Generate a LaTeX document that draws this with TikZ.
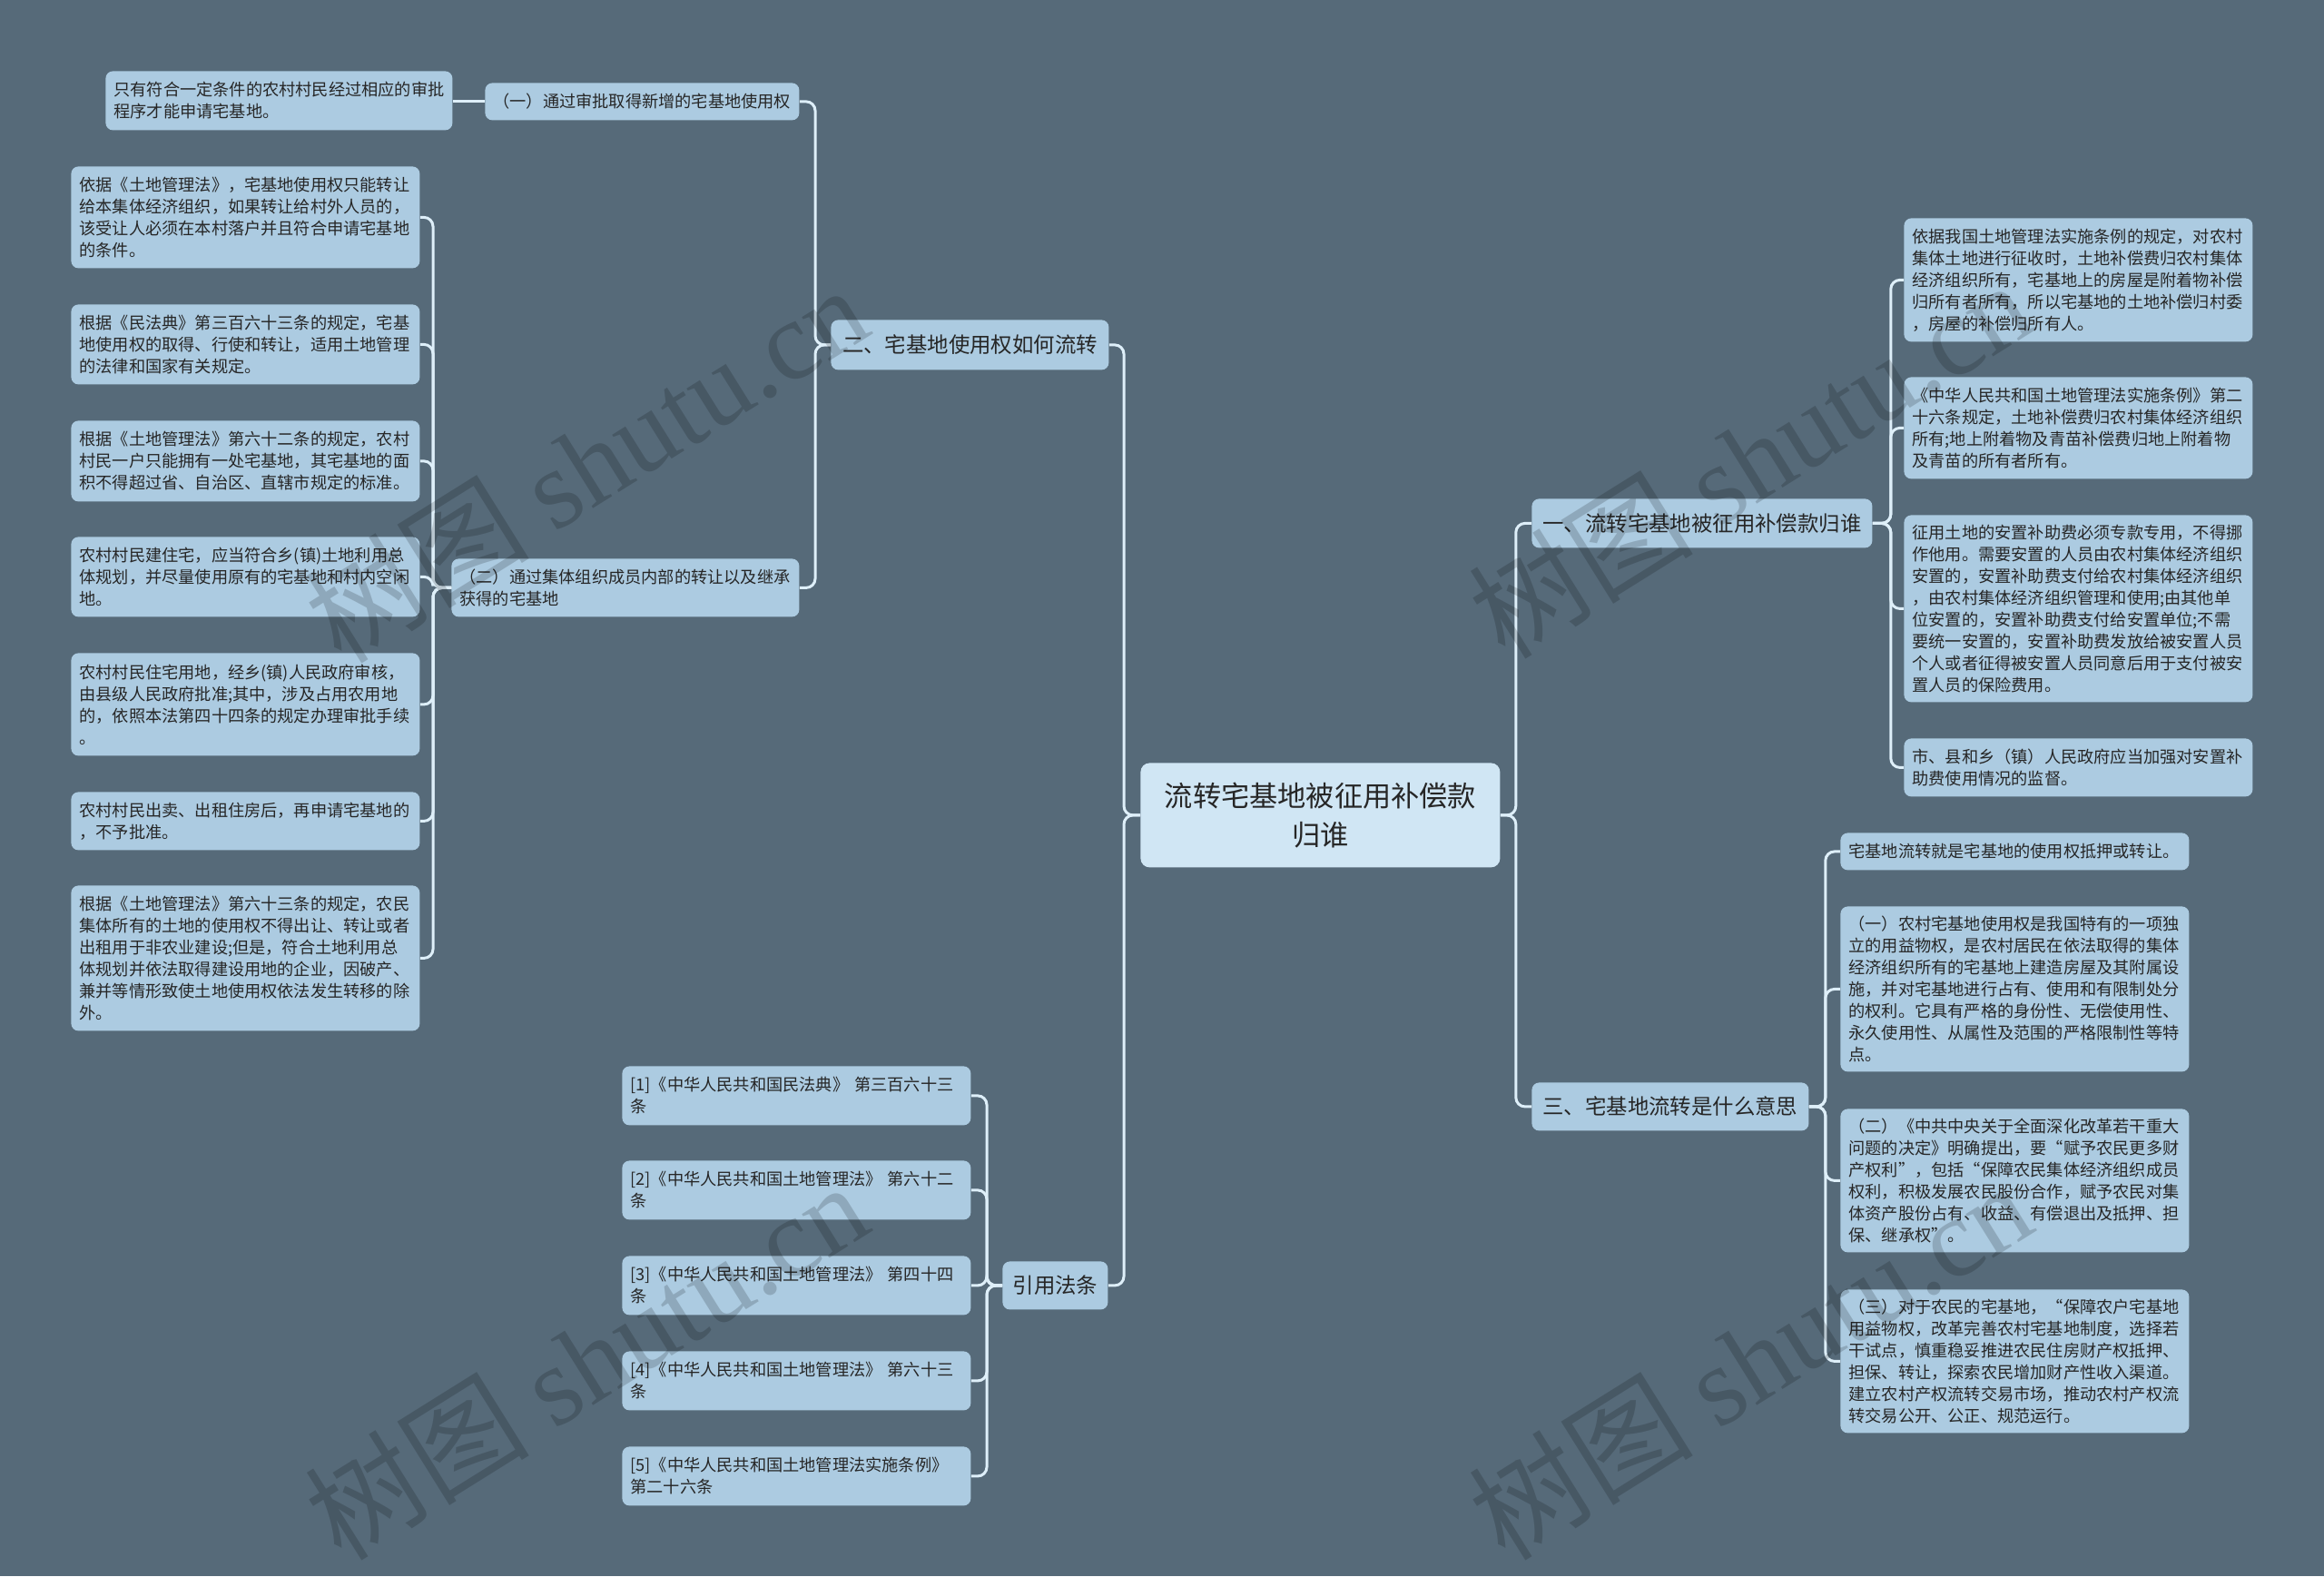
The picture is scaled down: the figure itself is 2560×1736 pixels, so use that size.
\documentclass[tikz,border=0pt]{standalone}
\usepackage{fontspec}
\setmainfont{Noto Sans CJK SC}
\newfontfamily\wmserif{Liberation Serif}
\usetikzlibrary{calc}
\definecolor{bgc}{RGB}{86,106,121}
\definecolor{boxc}{RGB}{172,203,225}
\definecolor{rootc}{RGB}{208,230,244}
\definecolor{linec}{RGB}{222,239,249}
\definecolor{txtc}{RGB}{38,38,38}
\begin{document}
\begin{tikzpicture}[x=0.5pt,y=-0.5pt,
  leaf/.style={fill=boxc, rounded corners=4pt, anchor=north west, inner xsep=4.5pt, inner ysep=0pt,
    text=txtc, align=left, text width=183pt, font=\fontsize{9.1pt}{12pt}\selectfont},
  mid/.style={fill=boxc, rounded corners=4pt, anchor=north west, inner sep=0pt,
    text=txtc, font=\fontsize{11.7pt}{14pt}\selectfont},
  rootbox/.style={fill=rootc, rounded corners=5pt, anchor=north west, inner sep=0pt,
    text=txtc, align=center, font=\fontsize{15.6pt}{21.7pt}\selectfont},
  conn/.style={draw=linec, line width=1.5pt, rounded corners=5pt},
  wm/.style={text=black, opacity=0.17, font=\fontsize{62pt}{62pt}\selectfont, inner sep=0pt}
]
\fill[bgc] (0,0) rectangle (2560,1736);
\useasboundingbox (0,0) rectangle (2560,1736);

% root
\node[rootbox, minimum width=198pt, minimum height=57.5pt] (root) at (1256,840) {流转宅基地被征用补偿款\\归谁};

% level 1
\node[mid, minimum width=153pt, minimum height=27.5pt] (n2) at (915,352) {二、宅基地使用权如何流转};
\node[mid, minimum width=58pt, minimum height=26.5pt] (ref) at (1104,1389) {引用法条};
\node[mid, minimum width=187.5pt, minimum height=27pt] (n1) at (1687,549) {一、流转宅基地被征用补偿款归谁};
\node[mid, minimum width=152.5pt, minimum height=26.5pt] (n3) at (1687,1192) {三、宅基地流转是什么意思};

% level 2 under n2
\node[leaf, text width=164pt, minimum height=20.5pt] (s1) at (534,91) {（一）通过审批取得新增的宅基地使用权};
\node[leaf, text width=182.5pt, minimum height=32pt] (s2) at (497,615) {（二）通过集体组织成员内部的转让以及继承\\获得的宅基地};

\node[leaf, text width=182pt, minimum height=32.5pt] (L0) at (116,78) {只有符合一定条件的农村村民经过相应的审批\\程序才能申请宅基地。};

\node[leaf, minimum height=56pt] (A) at (78,183) {依据《土地管理法》，宅基地使用权只能转让\\给本集体经济组织，如果转让给村外人员的，\\该受让人必须在本村落户并且符合申请宅基地\\的条件。};
\node[leaf, minimum height=44pt] (B) at (78,335) {根据《民法典》第三百六十三条的规定，宅基\\地使用权的取得、行使和转让，适用土地管理\\的法律和国家有关规定。};
\node[leaf, minimum height=44.5pt] (C) at (78,463) {根据《土地管理法》第六十二条的规定，农村\\村民一户只能拥有一处宅基地，其宅基地的面\\积不得超过省、自治区、直辖市规定的标准。};
\node[leaf, minimum height=44pt] (D) at (78,591) {农村村民建住宅，应当符合乡(镇)土地利用总\\体规划，并尽量使用原有的宅基地和村内空闲\\地。};
\node[leaf, minimum height=56.5pt] (E) at (78,719) {农村村民住宅用地，经乡(镇)人民政府审核，\\由县级人民政府批准;其中，涉及占用农用地\\的，依照本法第四十四条的规定办理审批手续\\。};
\node[leaf, minimum height=32pt] (F) at (78,872) {农村村民出卖、出租住房后，再申请宅基地的\\，不予批准。};
\node[leaf, minimum height=80pt] (G) at (78,975) {根据《土地管理法》第六十三条的规定，农民\\集体所有的土地的使用权不得出让、转让或者\\出租用于非农业建设;但是，符合土地利用总\\体规划并依法取得建设用地的企业，因破产、\\兼并等情形致使土地使用权依法发生转移的除\\外。};

% references
\node[leaf, minimum height=32.5pt] (F1) at (685,1174) {[1]《中华人民共和国民法典》 第三百六十三\\条};
\node[leaf, minimum height=32.5pt] (F2) at (685,1278) {[2]《中华人民共和国土地管理法》 第六十二\\条};
\node[leaf, minimum height=32.5pt] (F3) at (685,1383) {[3]《中华人民共和国土地管理法》 第四十四\\条};
\node[leaf, minimum height=32.5pt] (F4) at (685,1488) {[4]《中华人民共和国土地管理法》 第六十三\\条};
\node[leaf, minimum height=32.5pt] (F5) at (685,1593) {[5]《中华人民共和国土地管理法实施条例》\\第二十六条};

% right, under n1
\node[leaf, minimum height=68pt] (R1) at (2097,240) {依据我国土地管理法实施条例的规定，对农村\\集体土地进行征收时，土地补偿费归农村集体\\经济组织所有，宅基地上的房屋是附着物补偿\\归所有者所有，所以宅基地的土地补偿归村委\\，房屋的补偿归所有人。};
\node[leaf, minimum height=56pt] (R2) at (2097,415) {《中华人民共和国土地管理法实施条例》第二\\十六条规定，土地补偿费归农村集体经济组织\\所有;地上附着物及青苗补偿费归地上附着物\\及青苗的所有者所有。};
\node[leaf, minimum height=103pt] (R3) at (2097,567) {征用土地的安置补助费必须专款专用，不得挪\\作他用。需要安置的人员由农村集体经济组织\\安置的，安置补助费支付给农村集体经济组织\\，由农村集体经济组织管理和使用;由其他单\\位安置的，安置补助费支付给安置单位;不需\\要统一安置的，安置补助费发放给被安置人员\\个人或者征得被安置人员同意后用于支付被安\\置人员的保险费用。};
\node[leaf, minimum height=32pt] (R4) at (2097,813) {市、县和乡（镇）人民政府应当加强对安置补\\助费使用情况的监督。};

% right, under n3
\node[leaf, minimum height=20.5pt] (T1) at (2027,917) {宅基地流转就是宅基地的使用权抵押或转让。};
\node[leaf, minimum height=91pt] (T2) at (2027,998) {（一）农村宅基地使用权是我国特有的一项独\\立的用益物权，是农村居民在依法取得的集体\\经济组织所有的宅基地上建造房屋及其附属设\\施，并对宅基地进行占有、使用和有限制处分\\的权利。它具有严格的身份性、无偿使用性、\\永久使用性、从属性及范围的严格限制性等特\\点。};
\node[leaf, minimum height=79pt] (T3) at (2027,1221) {（二）《中共中央关于全面深化改革若干重大\\问题的决定》明确提出，要“赋予农民更多财\\产权利”，包括“保障农民集体经济组织成员\\权利，积极发展农民股份合作，赋予农民对集\\体资产股份占有、收益、有偿退出及抵押、担\\保、继承权”。};
\node[leaf, minimum height=79pt] (T4) at (2027,1420) {（三）对于农民的宅基地，“保障农户宅基地\\用益物权，改革完善农村宅基地制度，选择若\\干试点，慎重稳妥推进农民住房财产权抵押、\\担保、转让，探索农民增加财产性收入渠道。\\建立农村产权流转交易市场，推动农村产权流\\转交易公开、公正、规范运行。};

% connectors
\draw[conn] (root.east) -- ++(17,0) |- (n1.west);
\draw[conn] (root.east) -- ++(17,0) |- (n3.west);
\draw[conn] (root.west) -- ++(-18,0) |- (n2.east);
\draw[conn] (root.west) -- ++(-18,0) |- (ref.east);
\foreach \c in {R1,R2,R3,R4} \draw[conn] (n1.east) -- ++(20,0) |- (\c.west);
\foreach \c in {T1,T2,T3,T4} \draw[conn] (n3.east) -- ++(18,0) |- (\c.west);
\foreach \c in {s1,s2} \draw[conn] (n2.west) -- ++(-17,0) |- (\c.east);
\draw[conn] (s1.west) -- (s1.west -| L0.east);
\foreach \c in {A,B,C,D,E,F,G} \draw[conn] (s2.west) -- ++(-20,0) |- (\c.east);
\foreach \c in {F1,F2,F3,F4,F5} \draw[conn] (ref.west) -- ++(-17,0) |- (\c.east);

% watermarks
\node[wm, rotate=32] (wm1) at (645,510) {树图 {\wmserif shutu.cn}};
\node[wm, rotate=32] (wm2) at (1927,505) {树图 {\wmserif shutu.cn}};
\node[wm, rotate=32] (wm3) at (645,1498) {树图 {\wmserif shutu.cn}};
\node[wm, rotate=32] (wm4) at (1927,1498) {树图 {\wmserif shutu.cn}};
\end{tikzpicture}
\end{document}
